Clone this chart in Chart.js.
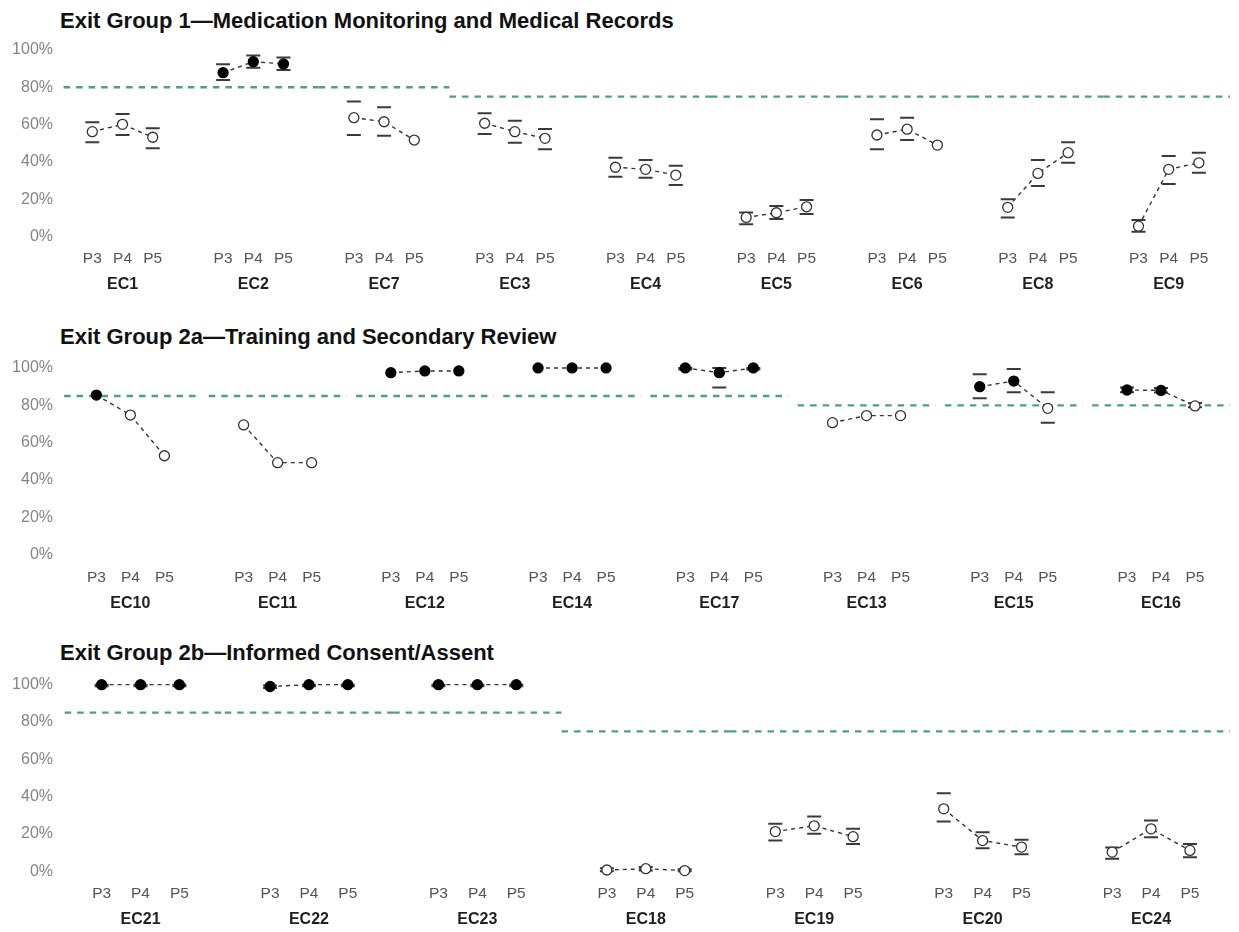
<!DOCTYPE html>
<html>
<head>
<meta charset="utf-8">
<script src="https://cdn.jsdelivr.net/npm/chart.js@4.4.1/dist/chart.umd.min.js"></script>
<style>
  body { margin: 0; background: #fff; width: 1239px; height: 932px; position: relative; overflow: hidden;
         font-family: "Liberation Sans", Arial, sans-serif; }
  canvas { position: absolute; left: 0; }
  .title { position: absolute; left: 60px; font-weight: bold; font-size: 22px; line-height: 1;
           color: #111; white-space: nowrap; }
</style>
</head>
<body>
<div class="title" style="top:10px">Exit Group 1—Medication Monitoring and Medical Records</div>
<div class="title" style="top:326px">Exit Group 2a—Training and Secondary Review</div>
<div class="title" style="top:642px">Exit Group 2b—Informed Consent/Assent</div>
<canvas id="c1" width="1239" height="300"></canvas>
<canvas id="c2" width="1239" height="318"></canvas>
<canvas id="c3" width="1239" height="314"></canvas>
<script>
const periods = ["P3", "P4", "P5"];
const yTicks = [0, 20, 40, 60, 80, 100];

// Exit Group 1
const g1Groups = ["EC1", "EC2", "EC7", "EC3", "EC4", "EC5", "EC6", "EC8", "EC9"];
const g1Target = [80, 80, 80, 75, 75, 75, 75, 75, 75];
const g1Value = [[56.2, 60.1, 53.2], [87.8, 93.7, 92.5], [63.7, 61.5, 51.7], [60.7, 56.2, 52.6],
  [37.1, 36, 32.9], [10.2, 12.7, 15.9], [54.4, 57.5, 49], [15.6, 33.8, 44.9], [5.5, 36, 39.5]];
const g1Low = [[50.5, 54.4, 47.3], [83.9, 90.5, 89.3], [54.4, 54, null], [54.9, 50.3, 46.7],
  [32, 31.5, 27.6], [6.6, 9.3, 12], [46.7, 51.7, null], [10.2, 27, 39.5], [2.5, 28.1, 34.2]];
const g1High = [[61.2, 65.7, 58], [92.3, 97, 95.9], [72.3, 69.3, null], [66, 62.1, 57.6],
  [42.2, 41, 37.9], [12.9, 16.3, 19.5], [62.8, 63.7, null], [19.9, 41, 50.5], [8.8, 43.1, 44.9]];

// Exit Group 2a
const g2Groups = ["EC10", "EC11", "EC12", "EC14", "EC17", "EC13", "EC15", "EC16"];
const g2Target = [85, 85, 85, 85, 85, 80, 80, 80];
const g2Value = [[85.5, 74.8, 53], [69.5, 49.3, 49.3], [97.5, 98.4, 98.4], [100, 100, 100],
  [100, 97.5, 100], [70.7, 74.5, 74.5], [90, 93, 78.4], [88.2, 88, 79.7]];
const g2Low = [[null, null, null], [null, null, null], [null, null, null], [null, null, null],
  [99.2, 89.5, 99.2], [null, null, null], [83.8, 87, 70.7], [87, 86.8, 79]];
const g2High = [[null, null, null], [null, null, null], [null, null, null], [null, null, null],
  [100, 100, 100], [null, null, null], [96.6, 99.5, 87], [89.5, 89.3, 81.2]];

// Exit Group 2b
const g3Groups = ["EC21", "EC22", "EC23", "EC18", "EC19", "EC20", "EC24"];
const g3Target = [85, 85, 85, 75, 75, 75, 75];
const g3Value = [[100, 100, 100], [99, 100, 100], [100, 100, 100], [0.6, 1.3, 0.3],
  [21.2, 24.3, 18.5], [33.4, 16.4, 12.9], [10.2, 22.7, 11.1]];
const g3Low = [[99.2, 99.2, 99.2], [98.2, 99.2, 99.2], [99.2, 99.2, 99.2], [0, 0.4, 0],
  [16.4, 20, 14.5], [26.6, 12.3, 9.1], [6.6, 18.2, 7.5]];
const g3High = [[100, 100, 100], [99.6, 100, 100], [100, 100, 100], [1.5, 2.2, 1],
  [25.4, 29.3, 22.7], [41.8, 20.9, 16.8], [12.7, 27.1, 14.5]];

Chart.defaults.font.family = '"Liberation Sans", Arial, sans-serif';

const STEP = 4.33;       // distance between groups, in point units
const X_MIN = -1.07;
const TEAL = "#4f9e88";

function drawPanel(p) {
  const n = p.groups.length;
  const xMax = (n - 1) * STEP + 2 + 1.03;
  const half = (STEP - 2) / 2;
  const datasets = [];

  // target lines, one piece per group
  p.target.forEach((t, k) => {
    const a = k === 0 ? -0.95 : k * STEP - half + p.gap;
    const b = k === n - 1 ? xMax : k * STEP + 2 + half - p.gap;
    datasets.push({
      data: [{ x: a, y: t }, { x: b, y: t }],
      borderColor: TEAL, borderWidth: 2.3, borderDash: [6.5, 6],
      pointRadius: 0, order: 4
    });
  });

  // dashed connectors within a group
  p.value.forEach((vals, k) => {
    datasets.push({
      data: vals.map((v, j) => ({ x: k * STEP + j, y: v })),
      borderColor: "#333", borderWidth: 1.4, borderDash: [4, 4],
      pointRadius: 0, order: 3
    });
  });

  // error-bar caps
  const caps = [];
  p.value.forEach((vals, k) => {
    vals.forEach((v, j) => {
      if (p.low[k][j] != null) caps.push({ x: k * STEP + j, y: p.low[k][j] });
      if (p.high[k][j] != null) caps.push({ x: k * STEP + j, y: p.high[k][j] });
    });
  });
  datasets.push({
    data: caps, showLine: false, pointStyle: "line", pointRadius: 7,
    pointBorderWidth: 2, pointBorderColor: "#3a3a3a", order: 2
  });

  // points: filled when the target is met
  const pts = [], fill = [], edge = [];
  p.value.forEach((vals, k) => {
    vals.forEach((v, j) => {
      pts.push({ x: k * STEP + j, y: v });
      const met = v >= p.target[k];
      fill.push(met ? "#000" : "#fff");
      edge.push(met ? "#000" : "#333");
    });
  });
  datasets.push({
    data: pts, showLine: false, pointRadius: 5, pointBorderWidth: 1.3,
    pointBackgroundColor: fill, pointBorderColor: edge, order: 1
  });

  const pointTicks = [];
  p.groups.forEach((g, k) => periods.forEach((q, j) => pointTicks.push(k * STEP + j)));
  const groupTicks = p.groups.map((g, k) => k * STEP + 1);

  const canvas = document.getElementById(p.id);
  canvas.style.top = p.top + "px";
  const h = canvas.height;

  new Chart(canvas, {
    type: "line",
    data: { datasets: datasets.map(d => Object.assign({ xAxisID: "x", yAxisID: "y" }, d)) },
    options: {
      responsive: false,
      animation: false,
      events: [],
      layout: { padding: { top: p.areaTop - p.top, bottom: p.top + h - p.areaBottom - 52, left: 0, right: 0 } },
      plugins: { legend: { display: false }, tooltip: { enabled: false } },
      scales: {
        x: {
          type: "linear", position: "bottom", weight: 1, min: X_MIN, max: xMax,
          grid: { display: false, drawTicks: false }, border: { display: false },
          afterBuildTicks: s => { s.ticks = pointTicks.map(v => ({ value: v })); },
          ticks: { autoSkip: false, maxRotation: 0, padding: 6, color: "#555",
                   font: { size: 15.5 }, callback: (v, i) => periods[i % 3] },
          afterFit: s => { s.height = 24; }
        },
        ec: {
          type: "linear", axis: "x", position: "bottom", weight: 2, min: X_MIN, max: xMax,
          grid: { display: false, drawTicks: false }, border: { display: false },
          afterBuildTicks: s => { s.ticks = groupTicks.map(v => ({ value: v })); },
          ticks: { autoSkip: false, maxRotation: 0, padding: 7.5, color: "#1f1f1f",
                   font: { size: 16, weight: "bold" }, callback: (v, i) => p.groups[i] },
          afterFit: s => { s.height = 28; }
        },
        y: {
          type: "linear", min: -4, max: 104, bounds: "data",
          grid: { display: false, drawTicks: false }, border: { display: false },
          afterBuildTicks: s => { s.ticks = yTicks.map(v => ({ value: v })); },
          ticks: { padding: 7, color: "#858585", font: { size: 16 }, callback: v => v + "%" },
          afterFit: s => { s.width = 60; }
        }
      }
    }
  });
}

drawPanel({ id: "c1", groups: g1Groups, target: g1Target, value: g1Value, low: g1Low, high: g1High,
  top: 0, areaTop: 42.5, areaBottom: 243.9, gap: 0 });
drawPanel({ id: "c2", groups: g2Groups, target: g2Target, value: g2Value, low: g2Low, high: g2High,
  top: 300, areaTop: 360.5, areaBottom: 562.2, gap: 0.14 });
drawPanel({ id: "c3", groups: g3Groups, target: g3Target, value: g3Value, low: g3Low, high: g3High,
  top: 618, areaTop: 677.2, areaBottom: 878.6, gap: 0 });
</script>
</body>
</html>
